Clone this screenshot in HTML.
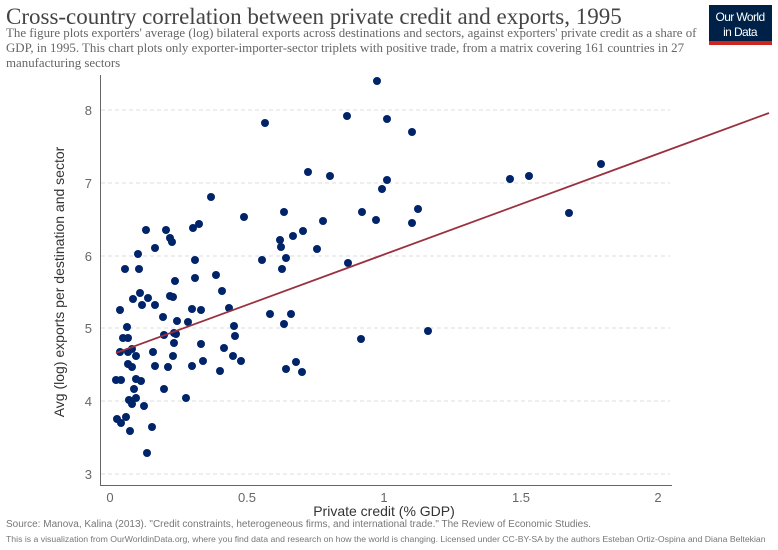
<!DOCTYPE html>
<html><head><meta charset="utf-8"><style>
body{margin:0;background:#fff;width:778px;height:550px;overflow:hidden}
svg{display:block}
</style></head><body>
<svg width="778" height="550" xmlns="http://www.w3.org/2000/svg">
<text x="6" y="24" font-family="Liberation Serif,serif" font-size="23" fill="#444">Cross-country correlation between private credit and exports, 1995</text>
<g font-family="Liberation Serif,serif" font-size="12.9" fill="#666">
<text x="6" y="37">The figure plots exporters' average (log) bilateral exports across destinations and sectors, against exporters' private credit as a share of</text>
<text x="6" y="52">GDP, in 1995. This chart plots only exporter-importer-sector triplets with positive trade, from a matrix covering 161 countries in 27</text>
<text x="6" y="67">manufacturing sectors</text>
</g>
<rect x="709" y="5" width="63" height="40" fill="#002147"/>
<rect x="709" y="41" width="63" height="4" fill="#ce261e"/>
<text x="740" y="21" text-anchor="middle" font-family="Liberation Sans,sans-serif" font-size="12" fill="#fff" letter-spacing="-0.6">Our World</text>
<text x="740" y="36" text-anchor="middle" font-family="Liberation Sans,sans-serif" font-size="12" fill="#fff" letter-spacing="-0.6">in Data</text>
<g stroke="#ddd" stroke-dasharray="4,3">
<line x1="101" x2="670" y1="110" y2="110"/><line x1="101" x2="670" y1="183" y2="183"/>
<line x1="101" x2="670" y1="256" y2="256"/><line x1="101" x2="670" y1="328" y2="328"/>
<line x1="101" x2="670" y1="401" y2="401"/><line x1="101" x2="670" y1="474" y2="474"/>
</g>
<line x1="100.5" y1="75" x2="100.5" y2="485" stroke="#666"/>
<line x1="100" y1="485.5" x2="672" y2="485.5" stroke="#666"/>
<g font-family="Liberation Sans,sans-serif" font-size="13" fill="#666" text-anchor="end">
<text x="92" y="115">8</text><text x="92" y="188">7</text><text x="92" y="261">6</text>
<text x="92" y="333">5</text><text x="92" y="406">4</text><text x="92" y="479">3</text>
</g>
<g font-family="Liberation Sans,sans-serif" font-size="13" fill="#666" text-anchor="middle">
<text x="110" y="502">0</text><text x="247" y="502">0.5</text><text x="384" y="502">1</text>
<text x="521" y="502">1.5</text><text x="658" y="502">2</text>
</g>
<text x="384" y="516" text-anchor="middle" font-family="Liberation Sans,sans-serif" font-size="14" fill="#333">Private credit (% GDP)</text>
<text transform="translate(64,282) rotate(-90)" text-anchor="middle" font-family="Liberation Sans,sans-serif" font-size="14" fill="#333">Avg (log) exports per destination and sector</text>
<g fill="#002469">
<circle cx="211" cy="197" r="4"/><circle cx="244" cy="217" r="4"/><circle cx="146" cy="230" r="4"/><circle cx="166" cy="230" r="4"/><circle cx="193" cy="228" r="4"/><circle cx="199" cy="224" r="4"/><circle cx="170" cy="238" r="4"/><circle cx="172" cy="242" r="4"/><circle cx="138" cy="254" r="4"/><circle cx="155" cy="248" r="4"/><circle cx="125" cy="269" r="4"/><circle cx="139" cy="269" r="4"/><circle cx="195" cy="260" r="4"/><circle cx="262" cy="260" r="4"/><circle cx="175" cy="281" r="4"/><circle cx="195" cy="278" r="4"/><circle cx="216" cy="275" r="4"/><circle cx="222" cy="291" r="4"/><circle cx="140" cy="293" r="4"/><circle cx="133" cy="299" r="4"/><circle cx="148" cy="298" r="4"/><circle cx="170" cy="296" r="4"/><circle cx="173" cy="297" r="4"/><circle cx="142" cy="305" r="4"/><circle cx="155" cy="305" r="4"/><circle cx="120" cy="310" r="4"/><circle cx="163" cy="317" r="4"/><circle cx="192" cy="309" r="4"/><circle cx="201" cy="310" r="4"/><circle cx="229" cy="308" r="4"/><circle cx="270" cy="314" r="4"/><circle cx="177" cy="321" r="4"/><circle cx="188" cy="322" r="4"/><circle cx="127" cy="327" r="4"/><circle cx="234" cy="326" r="4"/><circle cx="123" cy="338" r="4"/><circle cx="128" cy="338" r="4"/><circle cx="164" cy="335" r="4"/><circle cx="174" cy="333" r="4"/><circle cx="176" cy="334" r="4"/><circle cx="235" cy="336" r="4"/><circle cx="174" cy="343" r="4"/><circle cx="201" cy="344" r="4"/><circle cx="120" cy="352" r="4"/><circle cx="128" cy="352" r="4"/><circle cx="132" cy="349" r="4"/><circle cx="136" cy="356" r="4"/><circle cx="153" cy="352" r="4"/><circle cx="173" cy="356" r="4"/><circle cx="224" cy="348" r="4"/><circle cx="128" cy="364" r="4"/><circle cx="132" cy="367" r="4"/><circle cx="155" cy="366" r="4"/><circle cx="168" cy="367" r="4"/><circle cx="192" cy="366" r="4"/><circle cx="203" cy="361" r="4"/><circle cx="233" cy="356" r="4"/><circle cx="241" cy="361" r="4"/><circle cx="220" cy="371" r="4"/><circle cx="116" cy="380" r="4"/><circle cx="121" cy="380" r="4"/><circle cx="136" cy="379" r="4"/><circle cx="141" cy="381" r="4"/><circle cx="134" cy="389" r="4"/><circle cx="164" cy="389" r="4"/><circle cx="129" cy="400" r="4"/><circle cx="132" cy="404" r="4"/><circle cx="136" cy="398" r="4"/><circle cx="186" cy="398" r="4"/><circle cx="144" cy="406" r="4"/><circle cx="117" cy="419" r="4"/><circle cx="121" cy="423" r="4"/><circle cx="126" cy="417" r="4"/><circle cx="130" cy="431" r="4"/><circle cx="152" cy="427" r="4"/><circle cx="147" cy="453" r="4"/>
<circle cx="377" cy="81" r="4"/><circle cx="265" cy="123" r="4"/><circle cx="347" cy="116" r="4"/><circle cx="387" cy="119" r="4"/><circle cx="412" cy="132" r="4"/><circle cx="308" cy="172" r="4"/><circle cx="330" cy="176" r="4"/><circle cx="387" cy="180" r="4"/><circle cx="382" cy="189" r="4"/><circle cx="284" cy="212" r="4"/><circle cx="362" cy="212" r="4"/><circle cx="376" cy="220" r="4"/><circle cx="418" cy="209" r="4"/><circle cx="412" cy="223" r="4"/><circle cx="323" cy="221" r="4"/><circle cx="303" cy="231" r="4"/><circle cx="293" cy="236" r="4"/><circle cx="280" cy="240" r="4"/><circle cx="281" cy="247" r="4"/><circle cx="286" cy="258" r="4"/><circle cx="282" cy="269" r="4"/><circle cx="317" cy="249" r="4"/><circle cx="348" cy="263" r="4"/><circle cx="291" cy="314" r="4"/><circle cx="284" cy="324" r="4"/><circle cx="361" cy="339" r="4"/><circle cx="428" cy="331" r="4"/><circle cx="286" cy="369" r="4"/><circle cx="296" cy="362" r="4"/><circle cx="302" cy="372" r="4"/>
<circle cx="510" cy="179" r="4"/><circle cx="529" cy="176" r="4"/><circle cx="601" cy="164" r="4"/><circle cx="569" cy="213" r="4"/>
</g>
<line x1="116" y1="353" x2="769" y2="113" stroke="#9a3140" stroke-width="1.8"/>
<text x="6" y="527" font-family="Liberation Sans,sans-serif" font-size="10" fill="#777">Source: Manova, Kalina (2013). "Credit constraints, heterogeneous firms, and international trade." The Review of Economic Studies.</text>
<text x="6" y="542" font-family="Liberation Sans,sans-serif" font-size="8.7" fill="#777">This is a visualization from OurWorldinData.org, where you find data and research on how the world is changing.  Licensed under CC-BY-SA by the authors Esteban Ortiz-Ospina and Diana Beltekian</text>
</svg>
</body></html>
